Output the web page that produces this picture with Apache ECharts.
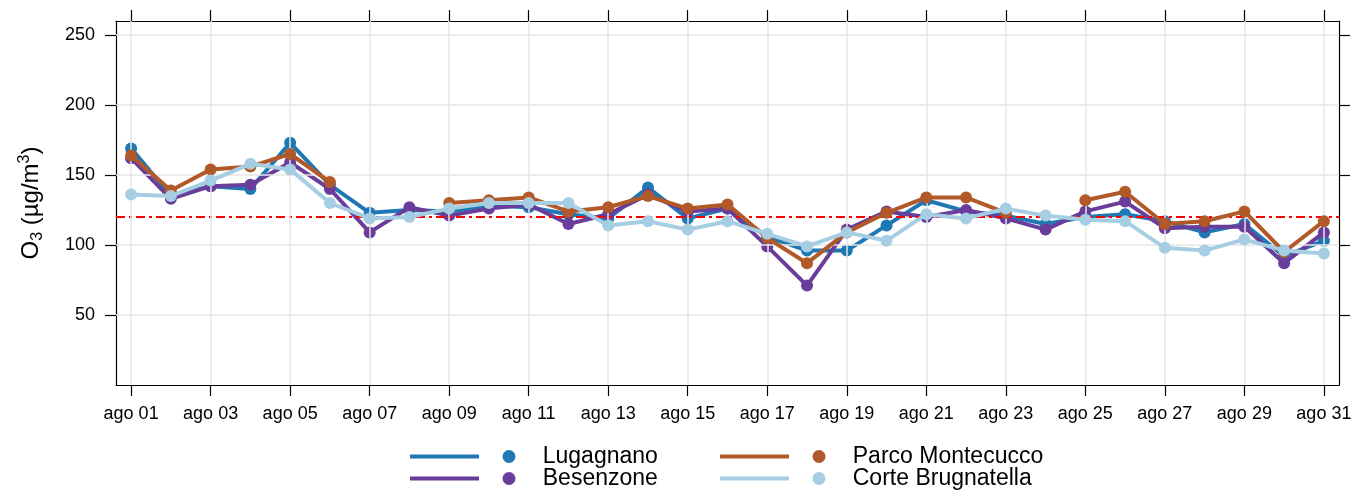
<!DOCTYPE html>
<html><head><meta charset="utf-8">
<script src="https://cdn.jsdelivr.net/npm/echarts@6/dist/echarts.min.js"></script>
<style>html,body{margin:0;padding:0;background:#fff}#c{width:1366px;height:490px}</style>
</head><body><div id="c"></div>
<script>
const days = [1,2,3,4,5,6,7,8,9,10,11,12,13,14,15,16,17,18,19,20,21,22,23,24,25,26,27,28,29,30,31];
const lugagnano = [169,135,142,140,173,143,123,125,124,128,127,122,119,141,119,126,106,96,96,114,132,124,121,115,120,122,117,109,115,92,103];
const besenzone = [162,133,142,143,159,140,109,127,121,126,129,115,122,136,124,126,99,71,111,124,120,125,119,111,124,131,112,113,113,87,109];
const parco = [164,139,154,156,165,145,null,null,130,132,134,124,127,135,126,129,105,87,109,123,134,134,123,null,132,138,115,117,124,95,117];
const corte = [136,135,146,158,154,130,119,120,126,130,130,130,114,117,111,117,108,99,109,103,122,119,126,121,118,117,98,96,104,96,94];
const seriesNames = ['Lugagnano','Besenzone','Parco Montecucco','Corte Brugnatella'];
const seriesColors = ['#1f78b4','#6a3d9a','#b15928','#a6cee3'];
const xTickValues = [1,3,5,7,9,11,13,15,17,19,21,23,25,27,29,31];
const xTickLabels = ['ago 01','ago 03','ago 05','ago 07','ago 09','ago 11','ago 13','ago 15','ago 17','ago 19','ago 21','ago 23','ago 25','ago 27','ago 29','ago 31'];
const yTickValues = [50,100,150,200,250];
const limitValue = 120;

const FONT = 'Liberation Sans';
const chart = echarts.init(document.getElementById('c'));
const allValues = [lugagnano, besenzone, parco, corte];
const legendIcon = 'path://M0,4.5 L69,4.5 L69,8.5 L0,8.5 Z M92.5,6.5 A6.5,6.5 0 1,1 105.5,6.5 A6.5,6.5 0 1,1 92.5,6.5 Z';

const series = seriesNames.map((n, i) => ({
  name: n, type: 'line', xAxisIndex: 0, yAxisIndex: 0,
  data: days.map((d, k) => [d, allValues[i][k] === null ? '-' : allValues[i][k]]),
  connectNulls: false,
  symbol: 'circle', symbolSize: 12, showSymbol: true,
  lineStyle: { color: seriesColors[i], width: 4 },
  itemStyle: { color: seriesColors[i], borderWidth: 0 },
  emphasis: { disabled: true },
  z: 3 + i,
  animation: false
}));
series[3].markLine = {
  silent: true, symbol: 'none', label: { show: false },
  lineStyle: { color: '#ff0000', width: 1.8, type: [9, 4, 3, 4], opacity: 1 },
  data: [{ yAxis: limitValue }]
};
series.push({
  type: 'line', data: [], xAxisIndex: 0, yAxisIndex: 0, z: 1, silent: true,
  markLine: {
    silent: true, symbol: 'none', label: { show: false }, animation: false,
    lineStyle: { color: '#e6e6e6', width: 1.5, type: 'solid' },
    data: xTickValues.map(v => ({ xAxis: v })).concat(yTickValues.map(v => ({ yAxis: v })))
  }
});

const xAxisBase = {
  type: 'value', min: 0.62, max: 31.38,
  axisLine: { show: true, onZero: false, lineStyle: { color: '#000', width: 1.2 } },
  axisTick: { show: true, inside: false, length: 11, customValues: xTickValues, lineStyle: { color: '#000', width: 1.2 } },
  splitLine: { show: false }
};
const yAxisBase = {
  type: 'value', min: 0, max: 260,
  axisLine: { show: true, onZero: false, lineStyle: { color: '#000', width: 1.2 } },
  axisTick: { show: true, inside: false, length: 11, customValues: yTickValues, lineStyle: { color: '#000', width: 1.2 } },
  splitLine: { show: false }
};

const legendPos = [[410, 445], [410, 467], [720, 445], [720, 467]];
const legends = seriesNames.map((n, i) => ({
  data: [n], orient: 'horizontal', left: legendPos[i][0], top: legendPos[i][1],
  icon: legendIcon, itemWidth: 106, itemHeight: 13, itemGap: 0, selectedMode: false, padding: 0,
  itemStyle: { borderWidth: 0 },
  textStyle: { fontFamily: FONT, fontSize: 23, color: '#000', lineHeight: 22, padding: [0, 0, 0, 22] }
}));

chart.setOption({
  animation: false,
  grid: { left: 116, right: 27, top: 21, bottom: 105, containLabel: false },
  xAxis: [
    Object.assign({}, xAxisBase, { position: 'bottom',
      axisLabel: { show: true, customValues: xTickValues, margin: 20, fontFamily: FONT, fontSize: 18, color: '#000',
        formatter: v => xTickLabels[xTickValues.indexOf(Math.round(v))] || '' } }),
    Object.assign({}, xAxisBase, { position: 'top', axisLabel: { show: false } })
  ],
  yAxis: [
    Object.assign({}, yAxisBase, { position: 'left',
      axisLabel: { show: true, customValues: yTickValues, margin: 21, fontFamily: FONT, fontSize: 18, color: '#000' },
      name: '{a|O}{sub|3}{a| (µg/m}{sup|3}{a|)}', nameLocation: 'middle', nameGap: 70, nameRotate: 90,
      nameTextStyle: { fontFamily: FONT, color: '#000',
        rich: {
          a: { fontFamily: FONT, fontSize: 24, color: '#000', lineHeight: 30 },
          sub: { fontFamily: FONT, fontSize: 16, color: '#000', lineHeight: 30, padding: [13, 0, 0, 0] },
          sup: { fontFamily: FONT, fontSize: 16, color: '#000', lineHeight: 30, padding: [0, 0, 13, 0] }
        } } }),
    Object.assign({}, yAxisBase, { position: 'right', axisLabel: { show: false } })
  ],
  legend: legends,
  series: series
});
</script></body></html>
